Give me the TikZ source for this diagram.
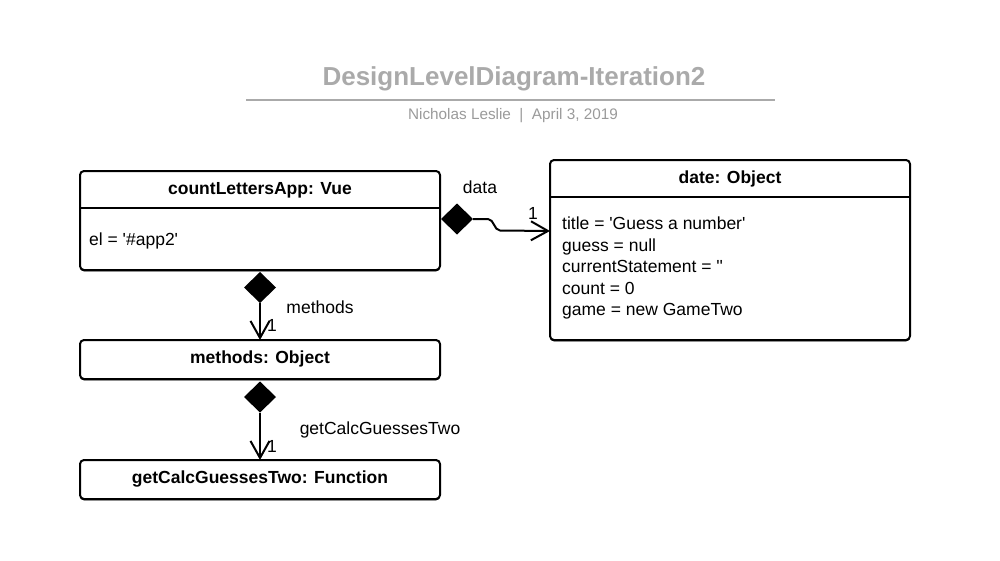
\documentclass[tikz,border=0pt]{standalone}
\usepackage{fontspec}
\setmainfont{Liberation Sans}
\usetikzlibrary{arrows.meta,shapes.geometric,shadows,calc}
\definecolor{ttl}{HTML}{AAAAAA}
\definecolor{sub}{HTML}{9A9A9A}
\newcommand{\sq}{\textquotesingle}
\begin{document}
\begin{tikzpicture}[x=1pt,y=-1pt,
  objbox/.style={draw=black, line width=2pt, rounded corners=4pt, fill=white,
    drop shadow={shadow xshift=0pt, shadow yshift=-1.4pt, opacity=1, fill=black},
    minimum width=360pt, inner sep=0pt, outer sep=0pt},
  hdr/.style={font=\fontsize{17.5}{20}\selectfont\bfseries, anchor=center, text height=12.5pt, text depth=3.5pt, inner sep=0pt, yshift=-2pt},
  txt/.style={font=\fontsize{17.5}{20}\selectfont, anchor=west, inner sep=0pt, text height=12.5pt, text depth=3.5pt, yshift=-2pt},
  lbl/.style={font=\fontsize{17.5}{20}\selectfont, inner sep=0pt, text height=12.5pt, text depth=3.5pt, yshift=-2pt},
  dmd/.style={diamond, fill=black, draw=none, minimum width=32pt, minimum height=31pt, inner sep=0pt, outer sep=0pt},
  conn/.style={line width=2pt, -{Straight Barb[length=17pt,width=19pt,line width=2pt]}}
]
\useasboundingbox (0,0) rectangle (1000,560);
% title
\node[font=\fontsize{26}{30}\selectfont\bfseries, text=ttl] (title) at (514,79) {DesignLevelDiagram-Iteration2};
\draw[ttl, line width=2pt] (246,100) -- (775,100);
\node[font=\fontsize{15.3}{18}\selectfont, text=sub] (subtitle) at (513,116) {Nicholas Leslie \ | \ April 3, 2019};

% boxes
\node[objbox, minimum height=99pt] (app) at (260,220.5) {};
\draw[line width=2pt] (80,208) -- (440,208);
\node[hdr] (apph) at (260,188) {countLettersApp: Vue};
\node[txt] (appel) at (89,239) {el = \sq\#app2\sq};

\node[objbox, minimum height=180pt] (date) at (730,250) {};
\draw[line width=2pt] (550,197) -- (910,197);
\node[hdr] (dateh) at (730,177) {date: Object};
\node[txt] (d1) at (562,223) {title = \sq Guess a number\sq};
\node[txt] (d2) at (562,244.5) {guess = null};
\node[txt] (d3) at (562,266) {currentStatement = \sq\sq};
\node[txt] (d4) at (562,287.5) {count = 0};
\node[txt] (d5) at (562,309) {game = new GameTwo};

\node[objbox, minimum height=39pt] (meth) at (260,359.5) {};
\node[hdr] (methh) at (260,357) {methods: Object};

\node[objbox, minimum height=39pt] (func) at (260,479.5) {};
\node[hdr] (funch) at (260,477) {getCalcGuessesTwo: Function};

% diamonds
\node[dmd] (dm1) at (457,219) {};
\node[dmd] (dm2) at (260,287.5) {};
\node[dmd] (dm3) at (260,397) {};

% connectors
\coordinate (dIn) at ([yshift=19pt]date.west);
\draw[conn] (dm1.east) -- ++(15,0) .. controls +(6,0) and +(-6,0) .. ++(12,11.5) -- (dIn);
\draw[conn] (dm2.south) -- (meth.north);
\draw[conn] (dm3.south) -- (func.north);

% labels
\node[lbl] (ldata) at (480,187) {data};
\node[lbl] (l1a) at (533,213) {1};
\node[lbl] (lmeth) at (320,307) {methods};
\node[lbl] (l1b) at (272,325) {1};
\node[lbl] (lget) at (380,428) {getCalcGuessesTwo};
\node[lbl] (l1c) at (272,446) {1};
\end{tikzpicture}
\end{document}
